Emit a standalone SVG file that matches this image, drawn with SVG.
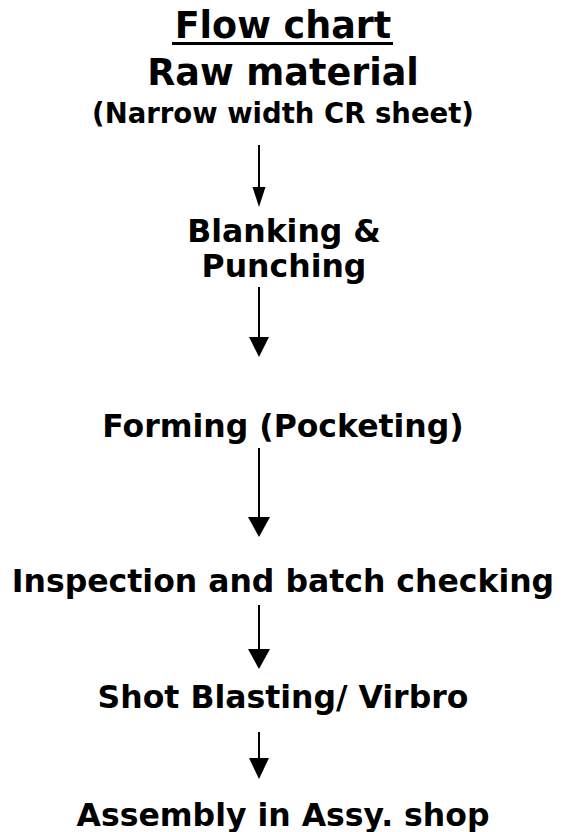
<svg xmlns="http://www.w3.org/2000/svg" width="567" height="832" viewBox="0 0 567 832">
<style>
text{font-family:"DejaVu Sans","Verdana",sans-serif;font-weight:bold;fill:#000;text-anchor:middle}
.t{font-size:36.5px}
.s{font-size:27.5px}
.p{font-size:31.5px}
.c line{stroke:#000;stroke-width:2}
.c path{fill:#000}
</style>
<rect width="567" height="832" fill="#fff"/>
<g id="title">
<text class="t" x="283" y="38">Flow chart</text>
<rect x="172" y="42" width="221" height="3" fill="#000"/>
</g>
<g id="raw">
<text class="t" x="283" y="85">Raw material</text>
<text class="s" x="283" y="123">(Narrow width CR sheet)</text>
</g>
<g id="blanking">
<text class="p" x="284" y="242">Blanking &amp;</text>
<text class="p" x="284" y="277">Punching</text>
</g>
<g id="forming">
<text class="p" x="283" y="437">Forming (Pocketing)</text>
</g>
<g id="inspection">
<text class="p" x="283" y="592">Inspection and batch checking</text>
</g>
<g id="shot">
<text class="p" x="283" y="708">Shot Blasting/ Virbro</text>
</g>
<g id="assembly">
<text class="p" x="283" y="826">Assembly in Assy. shop</text>
</g>
<g id="connectors" class="c">
<line x1="259" y1="145" x2="259" y2="189"/>
<path d="M252.5,187 L265.5,187 L259,207 Z"/>
<line x1="259" y1="287" x2="259" y2="339"/>
<path d="M249,337 L269,337 L259,357 Z"/>
<line x1="259" y1="448" x2="259" y2="519"/>
<path d="M248,517 L270,517 L259,537 Z"/>
<line x1="259" y1="605" x2="259" y2="651"/>
<path d="M248,649 L270,649 L259,669 Z"/>
<line x1="259" y1="732" x2="259" y2="760"/>
<path d="M249,758 L269,758 L259,779 Z"/>
</g>
</svg>
